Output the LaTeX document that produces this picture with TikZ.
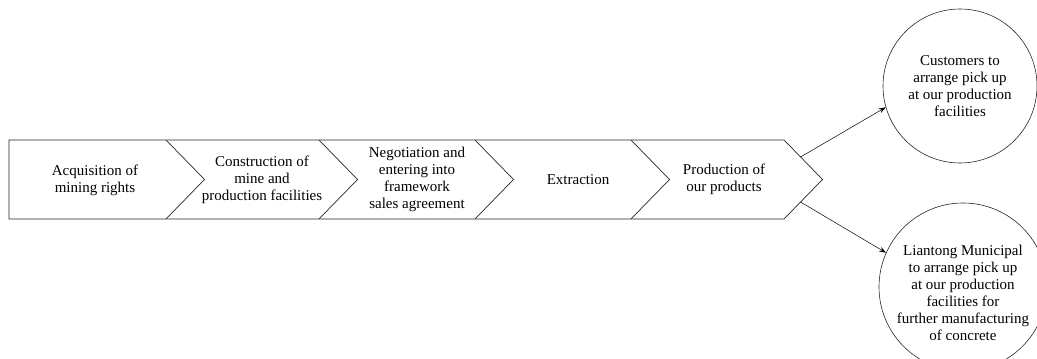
\documentclass[tikz,border=0pt]{standalone}
\usepackage{fontspec}
\setmainfont{Liberation Serif}
\usetikzlibrary{arrows.meta,calc}
\begin{document}
\begin{tikzpicture}[x=1pt,y=1pt,
  outline/.style={draw=black!85, line width=0.7pt, line join=miter},
  steptext/.style={align=center, font=\fontsize{15}{17}\selectfont, inner sep=0pt},
  endcircle/.style={circle, draw=black!85, line width=0.6pt, align=center, font=\fontsize{15}{17}\selectfont, inner sep=0pt},
  flowarrow/.style={-{Stealth[length=7pt,width=5pt,inset=2.5pt]}, line width=0.5pt}]
\useasboundingbox (0,0) rectangle (1037,359);
\clip (0,0) rectangle (1037,359);
\coordinate (bl) at (9,140);
\coordinate (tl) at (9,219);
\foreach \i/\x in {1/166,2/319,3/475,4/631,5/784} {
  \coordinate (t\i) at (\x,219);
  \coordinate (m\i) at (\x+38.5,179.5);
  \coordinate (b\i) at (\x,140);
}
\draw[outline] (tl) -- (t5) -- (m5) -- (b5) -- (bl) -- cycle;
\foreach \i in {1,...,4} \draw[outline] (t\i) -- (m\i) -- (b\i);
\node[steptext] (s1) at (95,179) {Acquisition of\\mining rights};
\node[steptext] (s2) at (262,179.5) {Construction of\\mine and\\production facilities};
\node[steptext] (s3) at (417,180) {Negotiation and\\entering into\\framework\\sales agreement};
\node[steptext] (s4) at (578,179.5) {Extraction};
\node[steptext] (s5) at (724,179.5) {Production of\\our products};
\node[endcircle, minimum size=154pt] (c1) at (960,273) {Customers to\\arrange pick up\\at our production\\facilities};
\node[endcircle, minimum size=168pt] (c2) at (963,72) {};
\node[steptext] (c2text) at (963,66) {Liantong Municipal\\to arrange pick up\\at our production\\facilities for\\further manufacturing\\of concrete};
\coordinate (a1) at ($(t5)!0.43!(m5)$);
\coordinate (a2) at ($(b5)!0.43!(m5)$);
\draw[flowarrow] (a1) -- (c1.196);
\draw[flowarrow] (a2) -- (c2.156);
\end{tikzpicture}
\end{document}
